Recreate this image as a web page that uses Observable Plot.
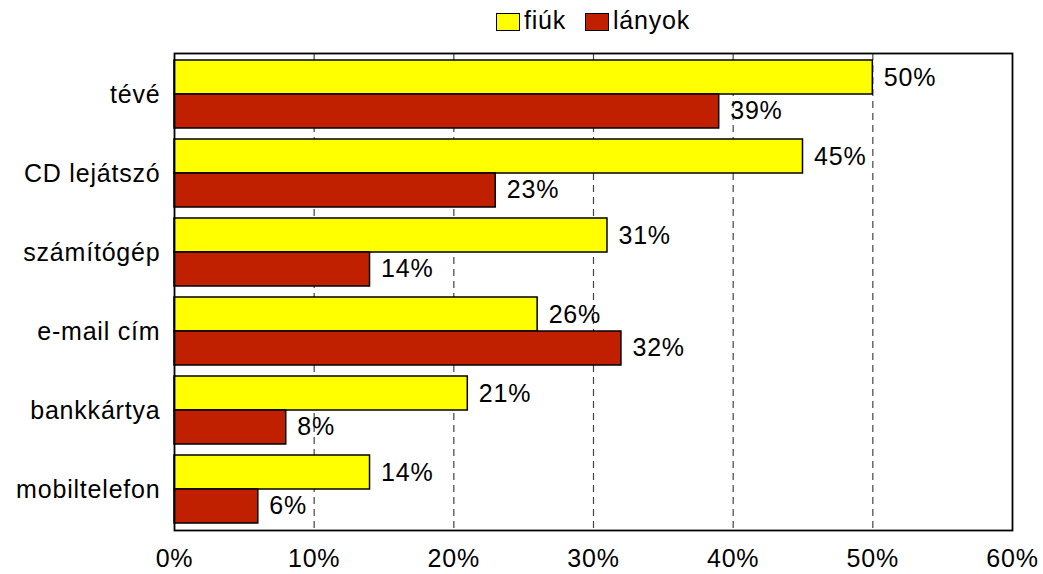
<!DOCTYPE html>
<html>
<head>
<meta charset="utf-8">
<script src="https://cdn.jsdelivr.net/npm/d3@7"></script>
<script src="https://cdn.jsdelivr.net/npm/@observablehq/plot@0.6"></script>
<style>
  body { margin: 0; background: #fff; font-family: "Liberation Sans", Arial, sans-serif; }
  #legend { position: relative; height: 40px; width: 1043px; }
  .item { position: absolute; top: 0; height: 40px; display: flex; align-items: center; font-size: 25px; letter-spacing: 0.8px; color: #000; }
  .sw { width: 22px; height: 16px; border: 1.5px solid #000; margin-right: 4px; margin-top: 3px; }
</style>
</head>
<body>
<div id="legend"></div>
<div id="chart"></div>
<script>
const categories = ["tévé", "CD lejátszó", "számítógép", "e-mail cím", "bankkártya", "mobiltelefon"];
const fiuk = [50, 45, 31, 26, 21, 14];
const lanyok = [39, 23, 14, 32, 8, 6];
const seriesNames = ["fiúk", "lányok"];
const seriesColors = ["#FFFF00", "#C02000"];
const xTicks = [0, 10, 20, 30, 40, 50, 60];
const gridTicks = [10, 20, 30, 40, 50];

const fiukData = categories.map((c, i) => ({category: c, value: fiuk[i]}));
const lanyokData = categories.map((c, i) => ({category: c, value: lanyok[i]}));

// legend
const legend = document.getElementById("legend");
const legendLeft = [496, 585];
seriesNames.forEach((s, i) => {
  const item = document.createElement("div");
  item.className = "item";
  item.style.left = legendLeft[i] + "px";
  const sw = document.createElement("div");
  sw.className = "sw";
  sw.style.background = seriesColors[i];
  item.appendChild(sw);
  item.appendChild(document.createTextNode(s));
  legend.appendChild(item);
});

const W = 1043, H = 534, mt = 13, mb = 44, ml = 174, mr = 31;
const pInner = 0.1447, pOuter = pInner / 2;
const step = (H - mt - mb) / categories.length;
const bw = step * (1 - pInner);
const half = bw / 2;

const chart = Plot.plot({
  width: W,
  height: H,
  marginTop: mt,
  marginBottom: mb,
  marginLeft: ml,
  marginRight: mr,
  style: {fontSize: "25px", fontFamily: "'Liberation Sans', Arial, sans-serif", letterSpacing: "0.8px", color: "#000", background: "#fff"},
  x: {domain: [0, 60], ticks: xTicks, tickFormat: d => d + "%", tickSize: 0, tickPadding: 19, label: null},
  y: {domain: categories, paddingInner: pInner, paddingOuter: pOuter, tickSize: 0, tickPadding: 14, label: null},
  marks: [
    Plot.ruleX(gridTicks, {stroke: "#444", strokeWidth: 1.2, strokeDasharray: "7,5"}),
    Plot.barX(fiukData, {x: "value", y: "category", fill: seriesColors[0], stroke: "#000", strokeWidth: 1.5, insetBottom: half}),
    Plot.barX(lanyokData, {x: "value", y: "category", fill: seriesColors[1], stroke: "#000", strokeWidth: 1.5, insetTop: half}),
    Plot.text(fiukData, {x: "value", y: "category", text: d => d.value + "%", textAnchor: "start", dx: 11, dy: -half / 2, fill: "#000"}),
    Plot.text(lanyokData, {x: "value", y: "category", text: d => d.value + "%", textAnchor: "start", dx: 11, dy: half / 2, fill: "#000"}),
    Plot.frame({stroke: "#000", strokeWidth: 1.8})
  ]
});
document.getElementById("chart").appendChild(chart);
</script>
</body>
</html>
